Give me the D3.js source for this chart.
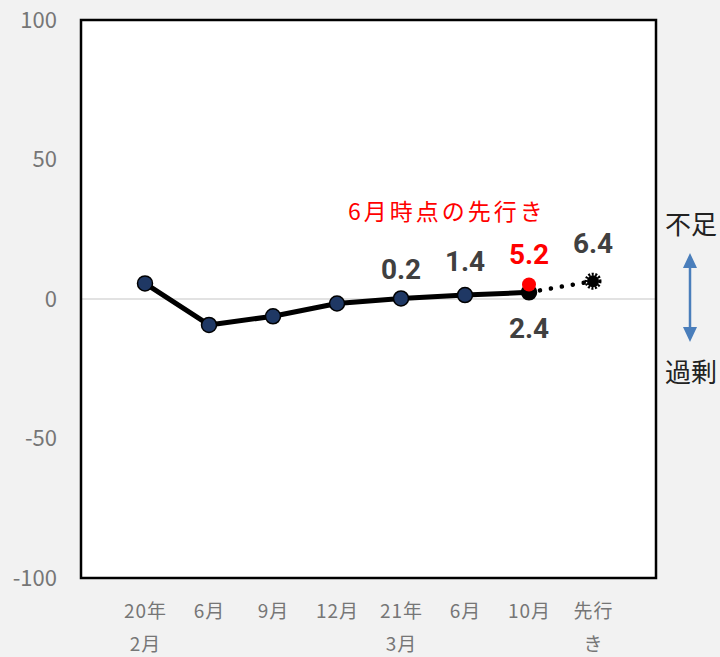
<!DOCTYPE html>
<meta charset="utf-8">
<script src="https://d3js.org/d3.v7.min.js"></script>
<style>
  body { margin: 0; background: #f2f2f2; }
  svg { display: block; font-family: "Noto Sans CJK JP", "Noto Sans", sans-serif; }
</style>
<body>
<div id="chart"></div>
<script>
// data
var catLines = [["20年", "2月"], ["6月"], ["9月"], ["12月"], ["21年", "3月"], ["6月"], ["10月"], ["先行", "き"]];
var actual = [5.6, -9.3, -6.2, -1.6, 0.2, 1.4, 2.4];
var forecast = [2.4, 6.4];          // 10月 -> 先行き (dotted)
var juneForecast = 5.2;             // 6月時点の先行き, at 10月
var yTicks = [-100, -50, 0, 50, 100];
var labelled = [
  {i: 4, v: 0.2, text: "0.2", red: false},
  {i: 5, v: 1.4, text: "1.4", red: false},
  {i: 6, v: 5.2, text: "5.2", red: true},
  {i: 7, v: 6.4, text: "6.4", red: false},
  {i: 6, v: 2.4, text: "2.4", red: false}
];
// label offsets from the point (px), kept separate from values
var labelDy = [-19, -24, -20, -28, 46];

var W = 720, H = 657;
var plot = {left: 81, top: 20, right: 656, bottom: 578};

var svg = d3.select("#chart").append("svg")
  .attr("width", W).attr("height", H);

var x = d3.scalePoint()
  .domain(d3.range(catLines.length))
  .range([145, 593]);

var y = d3.scaleLinear()
  .domain([-100, 100])
  .range([plot.bottom, plot.top]);

// plot area
svg.append("rect")
  .attr("x", plot.left).attr("y", plot.top)
  .attr("width", plot.right - plot.left).attr("height", plot.bottom - plot.top)
  .attr("fill", "#fff");

// zero line
svg.append("line")
  .attr("x1", plot.left).attr("x2", plot.right)
  .attr("y1", y(0)).attr("y2", y(0))
  .attr("stroke", "#d9d9d9").attr("stroke-width", 1.5);

svg.append("rect")
  .attr("x", plot.left).attr("y", plot.top)
  .attr("width", plot.right - plot.left).attr("height", plot.bottom - plot.top)
  .attr("fill", "none").attr("stroke", "#000").attr("stroke-width", 2.5);

// y axis labels
svg.selectAll(".ytick").data(yTicks).enter().append("text")
  .attr("x", 57).attr("y", function(d) { return y(d); })
  .attr("dy", "0.36em")
  .attr("text-anchor", "end")
  .attr("fill", "#767676")
  .style("font-size", "22px")
  .text(function(d) { return d; });

// x axis labels
catLines.forEach(function(lines, i) {
  lines.forEach(function(t, j) {
    svg.append("text")
      .attr("x", x(i) + 0.5).attr("y", 618 + j * 33)
      .attr("text-anchor", "middle")
      .attr("fill", "#767676")
      .style("font-size", "19px")
      .style("letter-spacing", "1px")
      .text(t);
  });
});

// dotted forecast line
svg.append("path")
  .datum(forecast)
  .attr("fill", "none")
  .attr("stroke", "#000")
  .attr("stroke-width", 4.5)
  .attr("stroke-linecap", "round")
  .attr("stroke-dasharray", "0.1 11")
  .attr("d", d3.line()
    .x(function(d, i) { return x(6 + i); })
    .y(function(d) { return y(d); }));

// actual line
svg.append("path")
  .datum(actual)
  .attr("fill", "none")
  .attr("stroke", "#000")
  .attr("stroke-width", 5)
  .attr("stroke-linejoin", "round")
  .attr("d", d3.line()
    .x(function(d, i) { return x(i); })
    .y(function(d) { return y(d); }));

svg.selectAll(".pt").data(actual).enter().append("circle")
  .attr("cx", function(d, i) { return x(i); })
  .attr("cy", function(d) { return y(d); })
  .attr("r", 7.5)
  .attr("fill", function(d, i) { return i === 6 ? "#000" : "#1f3864"; })
  .attr("stroke", "#000").attr("stroke-width", 1.5);

// forecast marker (serrated black disc)
svg.append("circle")
  .attr("cx", x(7)).attr("cy", y(forecast[1])).attr("r", 6)
  .attr("fill", "#000");
svg.append("circle")
  .attr("cx", x(7)).attr("cy", y(forecast[1])).attr("r", 7)
  .attr("fill", "none").attr("stroke", "#000").attr("stroke-width", 3)
  .attr("stroke-dasharray", "2 1.5");

// June forecast (red)
svg.append("circle")
  .attr("cx", x(6)).attr("cy", y(juneForecast)).attr("r", 7)
  .attr("fill", "#ff0000");

// data labels
svg.selectAll(".lbl").data(labelled).enter().append("text")
  .attr("x", function(d) { return x(d.i); })
  .attr("y", function(d, k) { return y(d.v) + labelDy[k]; })
  .attr("text-anchor", "middle")
  .attr("fill", function(d) { return d.red ? "#ff0000" : "#404040"; })
  .style("font-size", "28px")
  .style("font-weight", "bold")
  .style("font-family", "Roboto, sans-serif")
  .text(function(d) { return d.text; });

svg.append("text")
  .attr("x", 447).attr("y", 220)
  .attr("text-anchor", "middle")
  .attr("fill", "#ff0000")
  .style("font-size", "23px")
  .style("letter-spacing", "3px")
  .text("6月時点の先行き");

// shortage / surplus annotation
svg.append("text").attr("x", 665).attr("y", 234)
  .style("font-size", "26px").attr("fill", "#222").text("不足");
svg.append("text").attr("x", 665).attr("y", 382)
  .style("font-size", "26px").attr("fill", "#222").text("過剰");

var ax = 690;
svg.append("line").attr("x1", ax).attr("x2", ax).attr("y1", 264).attr("y2", 332)
  .attr("stroke", "#4a7ebb").attr("stroke-width", 2.5);
svg.append("path").attr("d", "M" + ax + ",253 L" + (ax - 7) + ",268 L" + (ax + 7) + ",268 Z")
  .attr("fill", "#4a7ebb");
svg.append("path").attr("d", "M" + ax + ",342 L" + (ax - 7) + ",327 L" + (ax + 7) + ",327 Z")
  .attr("fill", "#4a7ebb");
</script>
</body>
